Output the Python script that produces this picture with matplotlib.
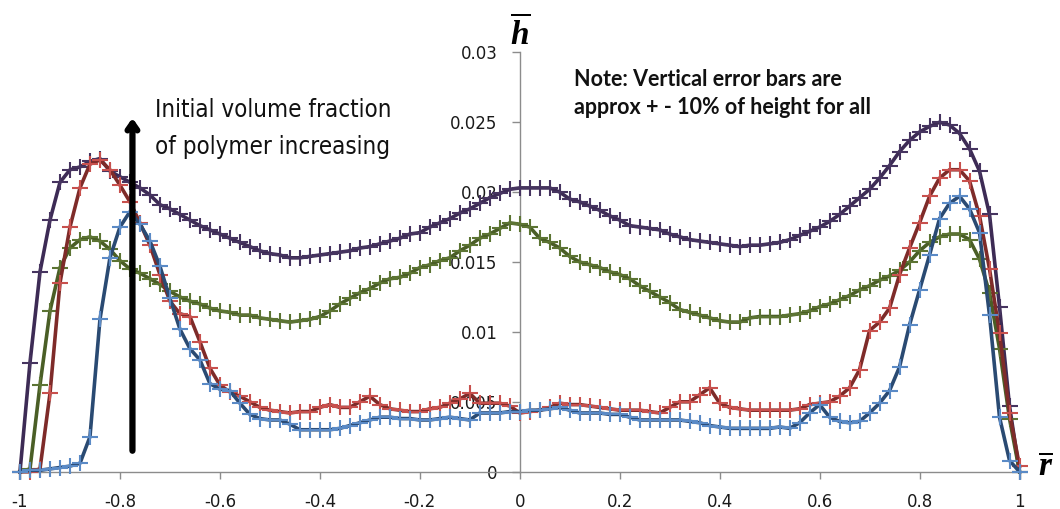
import numpy as np
import matplotlib
matplotlib.use("Agg")
import matplotlib.pyplot as plt
from matplotlib.ticker import FixedLocator, FuncFormatter

plt.rcParams['axes.unicode_minus'] = False
plt.rcParams['mathtext.fontset'] = 'custom'
plt.rcParams['mathtext.it'] = 'Liberation Serif:italic:bold'
plt.rcParams['mathtext.rm'] = 'Liberation Serif:bold'

# radial position grid (r-bar)
r = np.linspace(-1.0, 1.0, 101)

h_purple = [
    0.0000, 0.0078, 0.0143, 0.0180, 0.0207, 0.0216, 0.0218, 0.0222, 0.0224, 0.0215,
    0.0211, 0.0207, 0.0203, 0.0198, 0.0191, 0.0188, 0.0184, 0.0180, 0.0176, 0.0173,
    0.0170, 0.0167, 0.0164, 0.0161, 0.0158, 0.0156, 0.0155, 0.0153, 0.0153, 0.0154,
    0.0155, 0.0156, 0.0157, 0.0158, 0.0160, 0.0161, 0.0163, 0.0165, 0.0167, 0.0170,
    0.0171, 0.0175, 0.0178, 0.0181, 0.0185, 0.0188, 0.0192, 0.0196, 0.0199, 0.0202,
    0.0203, 0.0203, 0.0203, 0.0203, 0.0200, 0.0195, 0.0193, 0.0190, 0.0187, 0.0183,
    0.0180, 0.0176, 0.0175, 0.0174, 0.0173, 0.0170, 0.0168, 0.0166, 0.0165, 0.0164,
    0.0163, 0.0162, 0.0161, 0.0162, 0.0162, 0.0163, 0.0164, 0.0166, 0.0169, 0.0172,
    0.0175, 0.0179, 0.0184, 0.0190, 0.0196, 0.0202, 0.0210, 0.0219, 0.0229, 0.0237,
    0.0243, 0.0247, 0.0250, 0.0248, 0.0242, 0.0231, 0.0215, 0.0184, 0.0118, 0.0047,
    0.0000]

h_red = [
    0.0000, 0.0000, 0.0002, 0.0056, 0.0135, 0.0175, 0.0203, 0.0220, 0.0223, 0.0216,
    0.0205, 0.0193, 0.0178, 0.0162, 0.0141, 0.0122, 0.0113, 0.0111, 0.0093, 0.0074,
    0.0062, 0.0057, 0.0054, 0.0050, 0.0046, 0.0044, 0.0043, 0.0042, 0.0043, 0.0043,
    0.0046, 0.0048, 0.0046, 0.0046, 0.0050, 0.0054, 0.0048, 0.0045, 0.0044, 0.0043,
    0.0043, 0.0045, 0.0046, 0.0049, 0.0052, 0.0056, 0.0049, 0.0049, 0.0049, 0.0047,
    0.0042, 0.0043, 0.0044, 0.0046, 0.0049, 0.0048, 0.0048, 0.0047, 0.0046, 0.0045,
    0.0044, 0.0044, 0.0044, 0.0043, 0.0042, 0.0046, 0.0050, 0.0050, 0.0055, 0.0060,
    0.0049, 0.0046, 0.0045, 0.0044, 0.0044, 0.0044, 0.0044, 0.0044, 0.0045, 0.0048,
    0.0049, 0.0050, 0.0054, 0.0060, 0.0073, 0.0101, 0.0107, 0.0117, 0.0141, 0.0160,
    0.0178, 0.0197, 0.0210, 0.0216, 0.0216, 0.0208, 0.0183, 0.0145, 0.0099, 0.0042,
    0.0004]

h_blue = [
    0.0000, 0.0001, 0.0001, 0.0002, 0.0003, 0.0004, 0.0006, 0.0025, 0.0109, 0.0153,
    0.0175, 0.0186, 0.0177, 0.0165, 0.0147, 0.0124, 0.0102, 0.0088, 0.0080, 0.0063,
    0.0059, 0.0058, 0.0049, 0.0041, 0.0038, 0.0037, 0.0037, 0.0034, 0.0030, 0.0030,
    0.0030, 0.0030, 0.0031, 0.0033, 0.0035, 0.0037, 0.0039, 0.0039, 0.0038, 0.0038,
    0.0037, 0.0037, 0.0038, 0.0039, 0.0038, 0.0037, 0.0042, 0.0042, 0.0042, 0.0043,
    0.0043, 0.0044, 0.0044, 0.0045, 0.0046, 0.0044, 0.0042, 0.0042, 0.0042, 0.0041,
    0.0041, 0.0039, 0.0037, 0.0037, 0.0037, 0.0037, 0.0037, 0.0036, 0.0035, 0.0033,
    0.0032, 0.0031, 0.0031, 0.0031, 0.0031, 0.0031, 0.0032, 0.0031, 0.0035, 0.0042,
    0.0048, 0.0039, 0.0036, 0.0035, 0.0036, 0.0042, 0.0049, 0.0058, 0.0075, 0.0105,
    0.0130, 0.0155, 0.0181, 0.0192, 0.0197, 0.0188, 0.0171, 0.0112, 0.0039, 0.0008,
    0.0000]

h_green = [
    0.0000, 0.0002, 0.0062, 0.0115, 0.0146, 0.0160, 0.0166, 0.0168, 0.0165, 0.0159,
    0.0151, 0.0145, 0.0142, 0.0138, 0.0134, 0.0129, 0.0125, 0.0122, 0.0120, 0.0117,
    0.0115, 0.0114, 0.0112, 0.0112, 0.0110, 0.0109, 0.0108, 0.0107, 0.0108, 0.0109,
    0.0111, 0.0115, 0.0120, 0.0124, 0.0128, 0.0131, 0.0135, 0.0138, 0.0139, 0.0142,
    0.0146, 0.0148, 0.0151, 0.0153, 0.0158, 0.0162, 0.0167, 0.0170, 0.0174, 0.0178,
    0.0177, 0.0175, 0.0167, 0.0164, 0.0160, 0.0154, 0.0150, 0.0148, 0.0146, 0.0143,
    0.0141, 0.0138, 0.0133, 0.0129, 0.0125, 0.0121, 0.0116, 0.0114, 0.0112, 0.0110,
    0.0108, 0.0107, 0.0107, 0.0110, 0.0111, 0.0111, 0.0111, 0.0112, 0.0113, 0.0115,
    0.0118, 0.0120, 0.0123, 0.0126, 0.0130, 0.0133, 0.0137, 0.0140, 0.0144, 0.0150,
    0.0158, 0.0164, 0.0168, 0.0170, 0.0170, 0.0166, 0.0152, 0.0128, 0.0088, 0.0038,
    0.0000]

x_ticks = [-1, -0.8, -0.6, -0.4, -0.2, 0, 0.2, 0.4, 0.6, 0.8, 1]
y_ticks = [0, 0.005, 0.01, 0.015, 0.02, 0.025, 0.03]
y_tick_labels = ["0", "0.005", "0.01", "0.015", "0.02", "0.025", "0.03"]

fig = plt.figure(figsize=(10.6, 5.09), dpi=100)
ax = fig.add_axes([20/1060, (509-471.7)/509, 999.5/1060, 419.4/509])
ax.set_xlim(-1, 1)
ax.set_ylim(0, 0.03)

series = [
    (h_purple, '#3D2B55', '#463460'),
    (h_green, '#4A5E26', '#5C7433'),
    (h_red, '#7E2B29', '#C8504D'),
    (h_blue, '#2A4A72', '#5A8AC6'),
]
for vals, lc, mc in series:
    ax.plot(r, vals, color=lc, lw=2.6, marker='+', markersize=11,
            markeredgewidth=1.5, markeredgecolor=mc, zorder=3, clip_on=False)

for s in ['top', 'right']:
    ax.spines[s].set_visible(False)
ax.spines['left'].set_position(('data', 0))
ax.spines['left'].set_color('#8C8C8C')
ax.spines['bottom'].set_color('#8C8C8C')
ax.spines['left'].set_linewidth(1.0)
ax.spines['bottom'].set_linewidth(1.0)

ax.xaxis.set_major_locator(FixedLocator(x_ticks))
ax.xaxis.set_major_formatter(FuncFormatter(lambda v, p: '%g' % v))
ax.yaxis.set_major_locator(FixedLocator(y_ticks))
ax.set_yticklabels(y_tick_labels)
ax.tick_params(axis='both', colors='#8C8C8C', labelcolor='#1a1a1a',
               direction='out', length=5, width=1.0, labelsize=12)
ax.tick_params(axis='y', length=6, pad=10)
ax.tick_params(axis='x', pad=10)
for lab in ax.get_xticklabels() + ax.get_yticklabels():
    lab.set_family(['DejaVu Sans'])
    lab.set_stretch('semi-condensed')

# axis symbols
fig.text(520/1060, 1 - 33/509, r'$\overline{h}$', fontsize=24, ha='center', va='center')
fig.text(1046/1060, 1 - 466/509, r'$\overline{r}$', fontsize=24, ha='center', va='center')

# arrow and annotation
ax.annotate('', xy=(-0.775, 0.0255), xytext=(-0.775, 0.0013),
            arrowprops=dict(arrowstyle='->, head_length=0.5, head_width=0.35',
                            lw=4.5, color='black'),
            annotation_clip=False)
fig.text(155/1060, 1 - 110/509, 'Initial volume fraction', fontsize=17.3,
         family=['DejaVu Sans'], stretch='condensed', va='center', ha='left', color='#111111')
fig.text(155/1060, 1 - 147/509, 'of polymer increasing', fontsize=17.3,
         family=['DejaVu Sans'], stretch='condensed', va='center', ha='left', color='#111111')

fig.text(574/1060, 1 - 79/509, 'Note: Vertical error bars are', fontsize=15.5,
         family=['Lato', 'DejaVu Sans'], weight='bold', va='center', ha='left', color='#111111')
fig.text(574/1060, 1 - 108/509, 'approx + - 10% of height for all', fontsize=15.5,
         family=['Lato', 'DejaVu Sans'], weight='bold', va='center', ha='left', color='#111111')

fig.savefig('out.png', dpi=100)
